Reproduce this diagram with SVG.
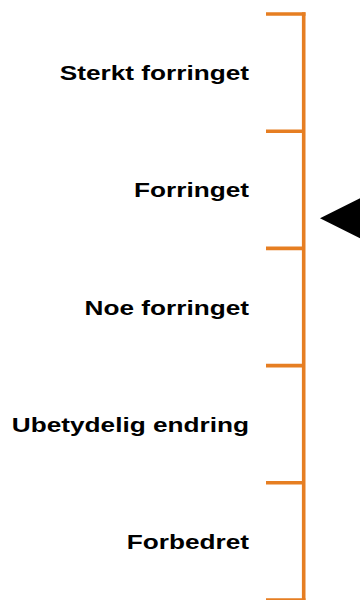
<svg xmlns="http://www.w3.org/2000/svg" width="360" height="600" viewBox="0 0 360 600">
  <style>
    .axis { stroke: #E67E22; stroke-width: 3.6; fill: none; }
    .lbl { font-family: "Liberation Sans", Arial, sans-serif; font-weight: bold; font-size: 20px; fill: #000; text-anchor: end; }
  </style>
  <rect width="360" height="600" fill="#ffffff"/>
  <g id="scale">
    <line class="axis" x1="303.7" y1="12.2" x2="303.7" y2="600"/>
    <line class="axis" x1="266" y1="14" x2="305.5" y2="14"/>
    <line class="axis" x1="266" y1="131.2" x2="303.7" y2="131.2"/>
    <line class="axis" x1="266" y1="248.4" x2="303.7" y2="248.4"/>
    <line class="axis" x1="266" y1="365.6" x2="303.7" y2="365.6"/>
    <line class="axis" x1="266" y1="482.8" x2="303.7" y2="482.8"/>
    <line class="axis" x1="266" y1="600" x2="305.5" y2="600"/>
  </g>
  <g id="labels" transform="scale(1.31,1)">
    <text id="label-sterkt-forringet" class="lbl" x="190.1" y="80.3">Sterkt forringet</text>
    <text id="label-forringet" class="lbl" x="190.1" y="197.5">Forringet</text>
    <text id="label-noe-forringet" class="lbl" x="190.1" y="314.8">Noe forringet</text>
    <text id="label-ubetydelig-endring" class="lbl" x="190.1" y="431.8">Ubetydelig endring</text>
    <text id="label-forbedret" class="lbl" x="190.1" y="549.2">Forbedret</text>
  </g>
  <g id="pointer">
    <polygon points="320,218.3 360,198.3 360,238.3" fill="#000"/>
  </g>
</svg>
